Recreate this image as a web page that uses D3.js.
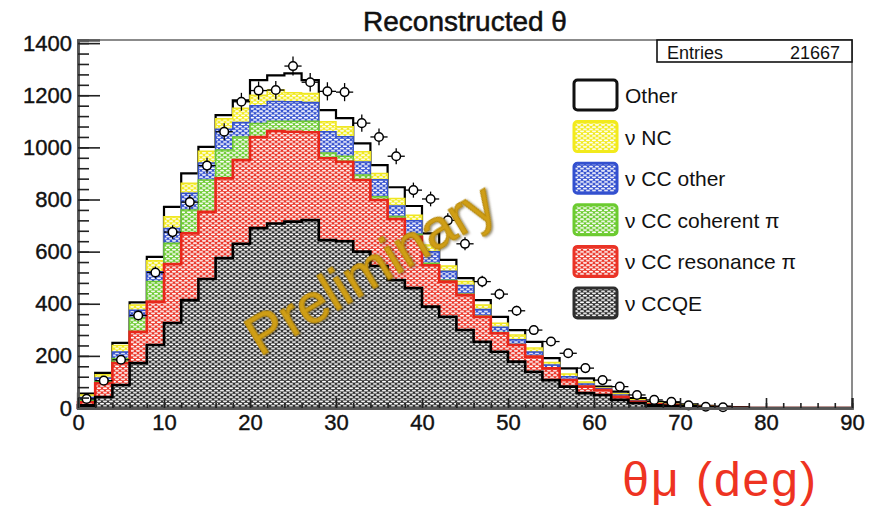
<!DOCTYPE html>
<html>
<head>
<meta charset="utf-8">
<script src="https://cdn.jsdelivr.net/npm/d3@7"></script>
<style>
  body { margin: 0; background: #fff; }
  svg { display: block; }
</style>
</head>
<body>
<svg id="chart" width="871" height="512"></svg>
<script>
// Reconstructed muon angle, 2-degree bins from 0 to 90 degrees
const binWidth = 2;
const binLow = d3.range(0, 90, binWidth);

// Stacked MC components per bin (events)
const ccqe      = [10,42,88,172,242,326,414,495,575,630, 690,708,715,721,644,640,600,545,491,460, 389,350,299,254,216,178,139,107,82,57, 50,31,19,10,8,5,3,2,1,0, 0,0,0,0,0];
const ccRes     = [12,53,84,120,166,226,256,258,306,321, 350,355,345,337,314,305,275,253,234,197, 159,135,134,96,71,64,58,45,25,25, 19,12,5,4,3,2,1,1,0,0, 0,0,0,0,0];
const ccCoh     = [8,7,18,53,77,80,90,122,109,89, 52,37,40,42,20,21,19,13,10,10, 7,5,4,3,3,2,2,1,1,1, 1,1,1,1,0,0,0,0,0,0, 0,0,0,0,0];
const ccOther   = [10,13,25,30,38,57,64,65,80,55, 68,76,75,72,82,75,50,65,40,51, 45,35,33,25,20,18,16,12,12,9, 5,6,3,2,2,2,1,1,1,0, 0,0,0,0,0];
const ncAll     = [10,13,25,20,42,45,38,45,40,55, 40,44,35,35,38,38,39,24,29,22, 25,20,15,17,15,18,15,10,10,8, 3,5,4,3,2,2,1,0,0,0, 0,0,0,0,0];
const otherMode = [5,7,10,10,15,38,38,17,14,30, 58,56,74,51,45,33,32,32,43,35, 45,23,13,19,25,19,24,16,22,14, 4,8,6,4,4,3,2,1,1,0, 0,0,0,0,0];

// Measured counts per bin
const dataCounts = [35,105,185,355,520,675,790,930,1060,1175, 1218,1220,1312,1250,1215,1212,1093,1040,966,836, 802,720,630,485,437,373,299,255,210,153, 107,82,50,31,24,10,5,3,0,0, 0,0,0,0,0];

const yMajorTicks = [0,200,400,600,800,1000,1200,1400];
const xMajorTicks = [0,10,20,30,40,50,60,70,80,90];
const entriesCount = 21667;

// Components in stacking order (bottom first)
const components = [
  { key: "ccqe",  label: "ν CCQE",            values: ccqe,      color: "#2e2e2e", line: "#000000", lw: 2.6 },
  { key: "res",   label: "ν CC resonance π",  values: ccRes,     color: "#ea3326", line: "#e8271b", lw: 2.6 },
  { key: "coh",   label: "ν CC coherent π",   values: ccCoh,     color: "#6ccb30", line: "#6cc832", lw: 1.5 },
  { key: "ccoth", label: "ν CC other",        values: ccOther,   color: "#3350cf", line: "#3652cc", lw: 1.5 },
  { key: "nc",    label: "ν NC",              values: ncAll,     color: "#f2ea1c", line: "#efe622", lw: 1.5 },
  { key: "other", label: "Other",             values: otherMode, color: null,      line: "#000000", lw: 2.2 }
];

const svg = d3.select("#chart");
const margin = { left: 78, right: 19, top: 40, bottom: 104 };
const W = 871, H = 512;
const x = d3.scaleLinear().domain([0, 90]).range([margin.left, W - margin.right]);
const y = d3.scaleLinear().domain([0, 1412]).range([H - margin.bottom, margin.top]);

// Hatched fills: coloured ground with staggered white dashes
const defs = svg.append("defs");
components.forEach(c => {
  if (!c.color) return;
  const p = defs.append("pattern")
    .attr("id", "hatch-" + c.key)
    .attr("patternUnits", "userSpaceOnUse")
    .attr("width", 6).attr("height", 4.4);
  p.append("rect").attr("width", 6).attr("height", 4.4).attr("fill", c.color);
  [[3, 1.1], [0, 3.3], [6, 3.3]].forEach(([cx, cy]) => {
    p.append("ellipse").attr("cx", cx).attr("cy", cy)
      .attr("rx", 2.15).attr("ry", 0.95).attr("fill", "#ffffff");
  });
});
const shadow = defs.append("filter").attr("id", "softShadow")
  .attr("x", "-10%").attr("y", "-30%").attr("width", "120%").attr("height", "160%");
shadow.append("feDropShadow").attr("dx", 1).attr("dy", 1.5).attr("stdDeviation", 1.2)
  .attr("flood-color", "#3a2a00").attr("flood-opacity", 0.6);

// Build stacked rows
const rows = binLow.map((lo, i) => {
  const r = { lo };
  components.forEach(c => { r[c.key] = c.values[i]; });
  return r;
});
const stack = d3.stack().keys(components.map(c => c.key));
const series = stack(rows);

// Each cumulative histogram is drawn from zero, top-most first
const stepArea = d3.area()
  .x(d => x(d.lo))
  .y0(y(0))
  .y1(d => y(d.top))
  .curve(d3.curveStepAfter);

const plot = svg.append("g");
for (let k = series.length - 1; k >= 0; k--) {
  const c = components[k];
  const pts = series[k].map((s, i) => ({ lo: binLow[i], top: s[1] }));
  pts.push({ lo: 90, top: pts[pts.length - 1].top });
  plot.append("path")
    .attr("d", stepArea(pts))
    .attr("fill", c.color ? "url(#hatch-" + c.key + ")" : "#ffffff")
    .attr("stroke", c.line)
    .attr("stroke-width", c.lw)
    .attr("stroke-linejoin", "miter");
}

// Data points with statistical error bars
const pts = dataCounts.map((v, i) => ({ c: binLow[i] + binWidth / 2, v })).filter(d => d.v > 0);
const dataG = svg.append("g");
dataG.selectAll("line.ex").data(pts).join("line")
  .attr("x1", d => x(d.c - binWidth / 2)).attr("x2", d => x(d.c + binWidth / 2))
  .attr("y1", d => y(d.v)).attr("y2", d => y(d.v))
  .attr("stroke", "#000").attr("stroke-width", 1.3);
dataG.selectAll("line.ey").data(pts).join("line")
  .attr("x1", d => x(d.c)).attr("x2", d => x(d.c))
  .attr("y1", d => y(d.v - Math.sqrt(d.v))).attr("y2", d => y(d.v + Math.sqrt(d.v)))
  .attr("stroke", "#000").attr("stroke-width", 1.3);
dataG.selectAll("circle").data(pts).join("circle")
  .attr("cx", d => x(d.c)).attr("cy", d => y(d.v)).attr("r", 4.3)
  .attr("fill", "#fff").attr("stroke", "#000").attr("stroke-width", 1.5);

// Frame
svg.append("rect")
  .attr("x", x(0)).attr("y", y(1412))
  .attr("width", x(90) - x(0)).attr("height", y(0) - y(1412))
  .attr("fill", "none").attr("stroke", "#666").attr("stroke-width", 1.5);

// Axes (ticks inside the frame)
const axisFont = "'Liberation Sans', Arial, Helvetica, sans-serif";
svg.append("g").attr("transform", `translate(${x(0)},0)`)
  .call(d3.axisLeft(y).tickValues(yMajorTicks).tickSize(-22).tickPadding(6).tickFormat(d3.format("d")));
svg.append("g").attr("transform", `translate(${x(0)},0)`)
  .call(d3.axisLeft(y).tickValues(d3.range(0, 1412, 40)).tickSize(-11).tickFormat(""));
svg.append("g").attr("transform", `translate(0,${y(0)})`)
  .call(d3.axisBottom(x).tickValues(xMajorTicks).tickSize(-10).tickPadding(6).tickFormat(d3.format("d")));
svg.append("g").attr("transform", `translate(0,${y(0)})`)
  .call(d3.axisBottom(x).tickValues(d3.range(0, 91, 2)).tickSize(-5).tickFormat(""));
svg.selectAll(".domain").attr("stroke", "#555").attr("stroke-width", 2.5);
svg.selectAll(".tick line").attr("stroke", "#222").attr("stroke-width", 1.6);
svg.selectAll(".tick text")
  .attr("fill", "#111").style("font-family", axisFont).style("font-size", "22px")
  .style("stroke", "#111").style("stroke-width", "0.4px");

// Title
svg.append("text").attr("x", 465).attr("y", 31).attr("text-anchor", "middle")
  .style("font-family", axisFont).style("font-size", "28px").attr("fill", "#111")
  .style("stroke", "#111").style("stroke-width", "0.5px")
  .text("Reconstructed θ");

// Statistics box
const statsG = svg.append("g");
statsG.append("rect").attr("x", 657).attr("y", y(1412)).attr("width", x(90) - 657).attr("height", 22)
  .attr("fill", "#fff").attr("stroke", "#111").attr("stroke-width", 1.6);
statsG.append("text").attr("x", 667).attr("y", 59)
  .style("font-family", axisFont).style("font-size", "18px").attr("fill", "#111").text("Entries");
statsG.append("text").attr("x", 840).attr("y", 59).attr("text-anchor", "end")
  .style("font-family", axisFont).style("font-size", "18px").attr("fill", "#111").text(entriesCount);

// Legend (top entry first)
const legendItems = components.slice().reverse();
const legend = svg.append("g").attr("transform", "translate(573,80)");
legendItems.forEach((c, i) => {
  const g = legend.append("g").attr("transform", `translate(0,${i * 41.6})`);
  g.append("rect").attr("x", 1).attr("y", 0).attr("width", 43).attr("height", 30)
    .attr("rx", 3.5)
    .attr("fill", c.color ? "url(#hatch-" + c.key + ")" : "#fff")
    .attr("stroke", c.color ? c.color : "#111").attr("stroke-width", 3);
  g.append("text").attr("x", 52).attr("y", 23)
    .style("font-family", axisFont).style("font-size", "21px").attr("fill", "#111")
    .text(c.label);
});

// Watermark
svg.append("text")
  .attr("transform", "translate(372,272) rotate(-31)")
  .attr("text-anchor", "middle").attr("dominant-baseline", "middle")
  .style("font-family", axisFont).style("font-size", "56px")
  .attr("fill", "#cf9e16").style("stroke", "#b88a0c").style("stroke-width", "1px")
  .attr("filter", "url(#softShadow)")
  .text("Preliminary");

// Axis title
svg.append("text").attr("x", 818).attr("y", 496).attr("text-anchor", "end")
  .style("font-family", axisFont).style("font-size", "48px").attr("fill", "#ee3322")
  .style("letter-spacing", "2px")
  .text("θμ (deg)");
</script>
</body>
</html>
